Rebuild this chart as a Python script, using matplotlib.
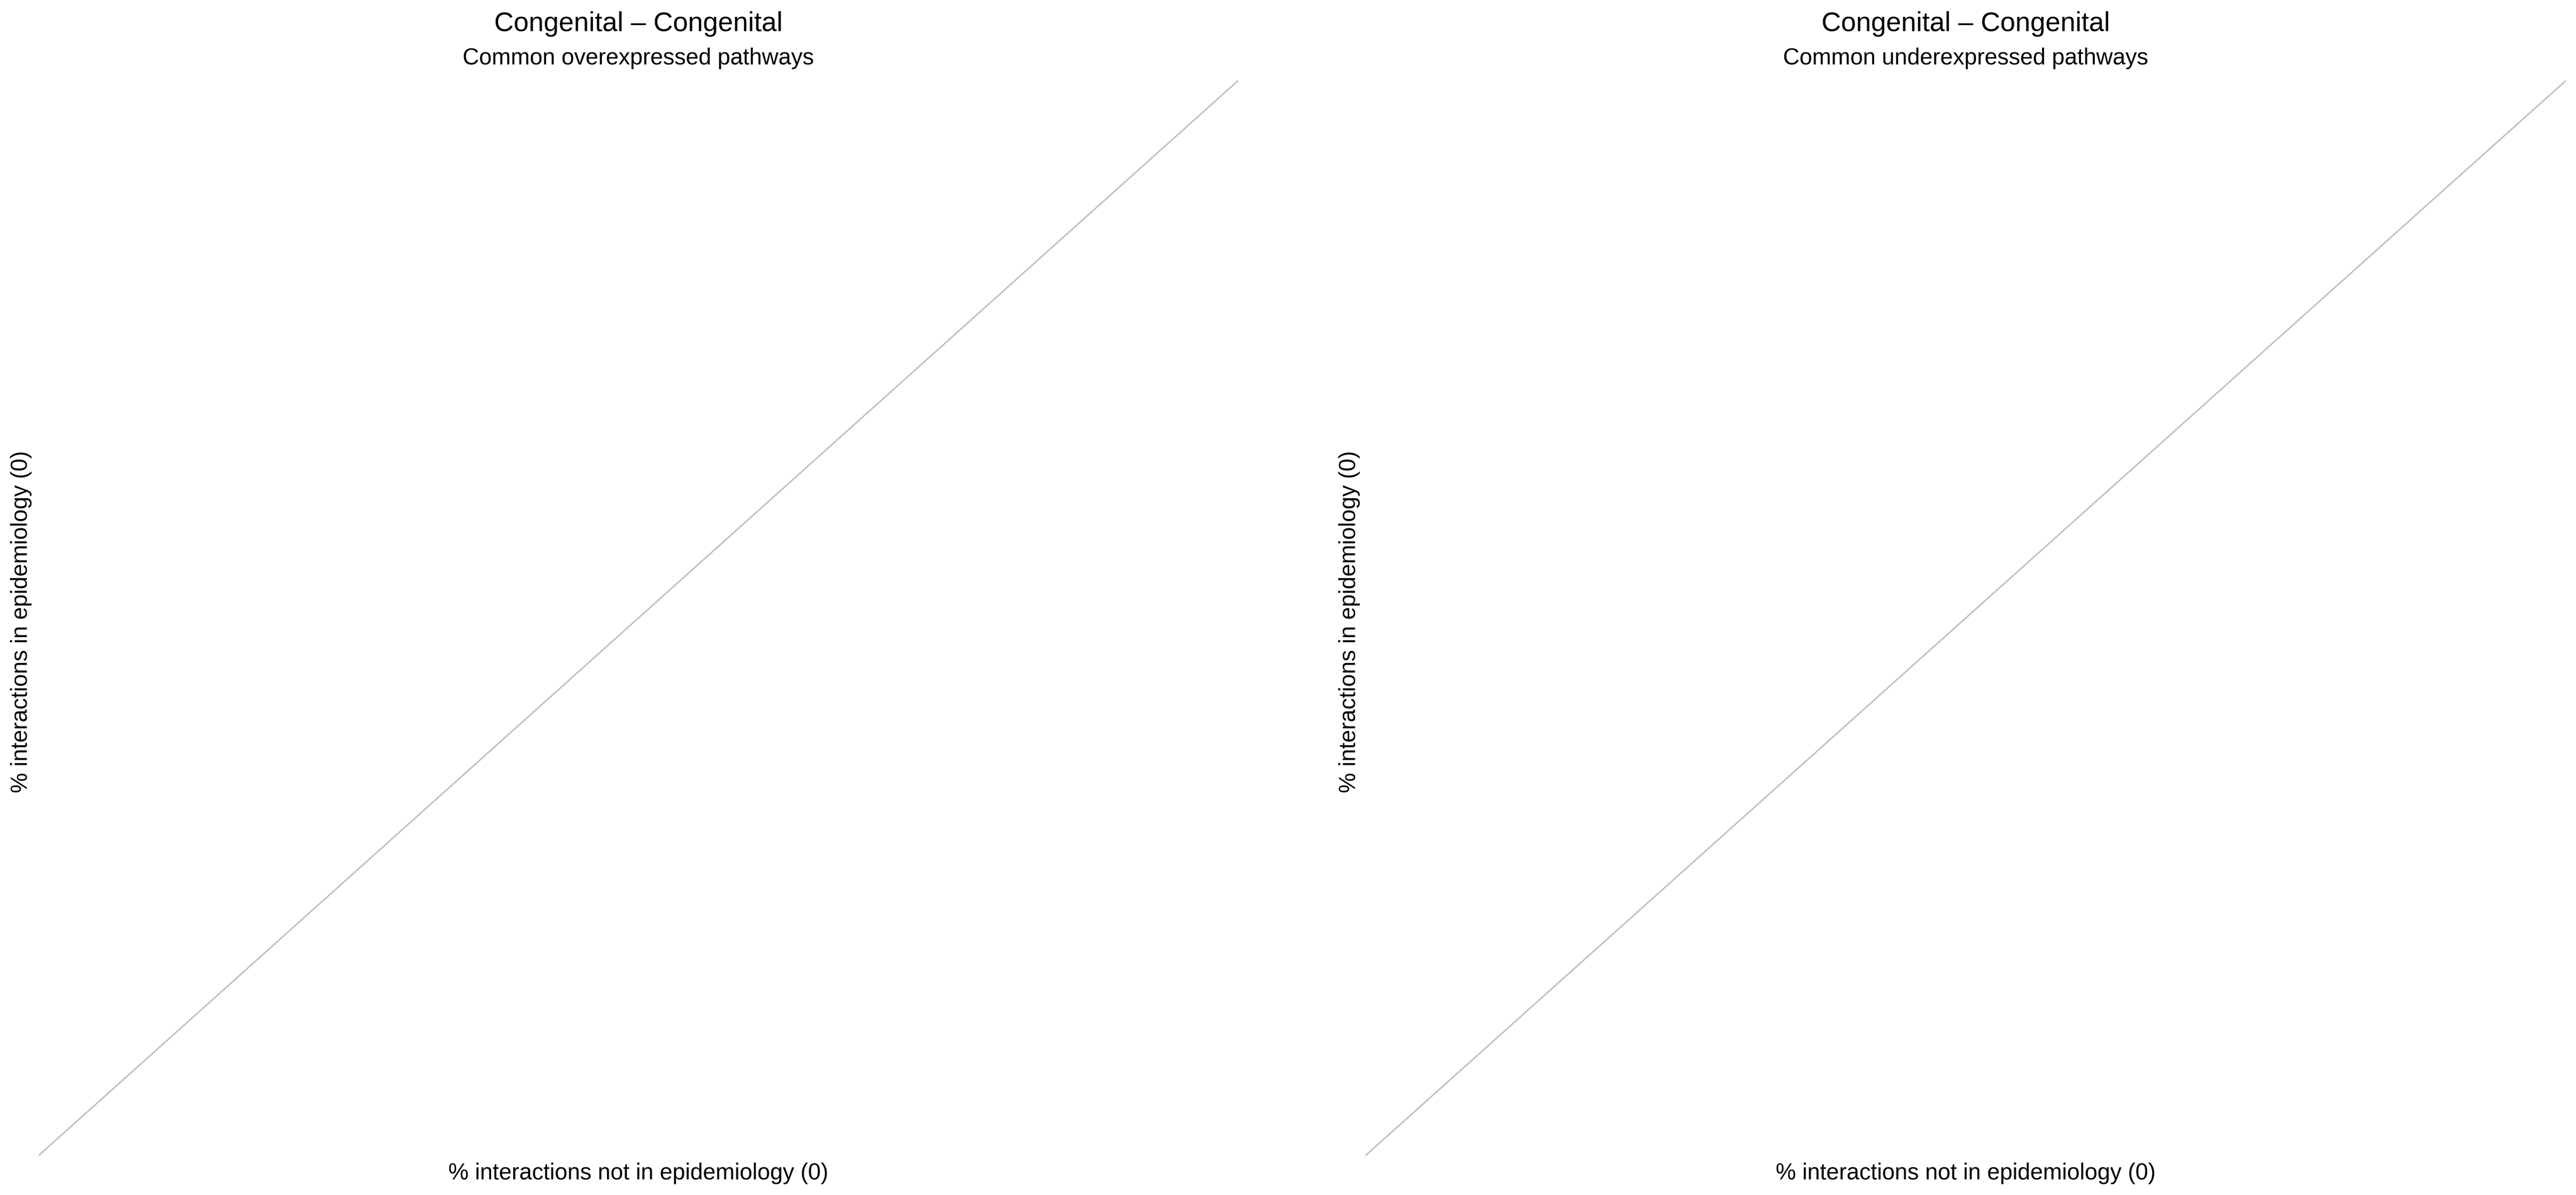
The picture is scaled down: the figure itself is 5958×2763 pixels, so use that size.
import matplotlib
matplotlib.use("Agg")
import matplotlib.pyplot as plt

plt.rcParams['font.family'] = ['Liberation Sans', 'DejaVu Sans']

# ---- data ----
panel_titles = ["Congenital \u2013 Congenital", "Congenital \u2013 Congenital"]
panel_subtitles = ["Common overexpressed pathways", "Common underexpressed pathways"]
n_in_epi = [0, 0]
n_not_in_epi = [0, 0]
# pathway points (none in either panel)
x_not_in_epi = [[], []]
y_in_epi = [[], []]
# identity reference line
diag_x = [0, 1]
diag_y = [0, 1]

W, H = 5958, 2763
fig = plt.figure(figsize=(W / 100, H / 100), dpi=100)
fig.patch.set_facecolor("white")

axes_px = [(89, 2864), (3158, 5935)]
top_px, bot_px = 186, 2672
ylab_x_px = [49, 3121]

for i, (l, r) in enumerate(axes_px):
    ax = fig.add_axes([l / W, 1 - bot_px / H, (r - l) / W, (bot_px - top_px) / H])
    ax.set_xlim(0, 1)
    ax.set_ylim(0, 1)
    ax.margins(0)
    for s in ax.spines.values():
        s.set_visible(False)
    ax.set_xticks([])
    ax.set_yticks([])
    ax.plot(diag_x, diag_y, color="#c0c0c0", lw=2.5, solid_capstyle="butt")
    ax.scatter(x_not_in_epi[i], y_in_epi[i], s=40, color="#444444")

    cx = (l + r) / 2 / W
    fig.text(cx, 1 - 72 / H, panel_titles[i], ha="center", va="baseline",
             fontsize=45, color="black")
    fig.text(cx, 1 - 149 / H, panel_subtitles[i], ha="center", va="baseline",
             fontsize=38, color="black")
    fig.text(cx, 1 - 2727 / H, f"% interactions not in epidemiology ({n_not_in_epi[i]})",
             ha="center", va="baseline", fontsize=38, color="black")
    fig.text(ylab_x_px[i] / W, 1 - 1438 / H, f"% interactions in epidemiology ({n_in_epi[i]})",
             ha="center", va="center", rotation=90, fontsize=38, color="black")

fig.savefig("out.png", dpi=100, facecolor="white")
